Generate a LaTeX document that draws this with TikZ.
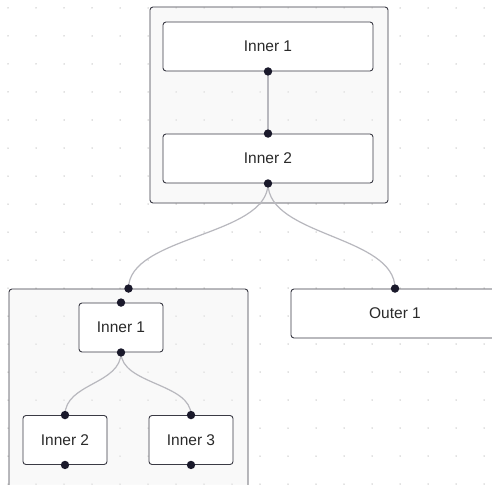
\documentclass[tikz,border=0pt]{standalone}
\usepackage{fontspec}
\setmainfont{Liberation Sans}
\definecolor{nodeborder}{HTML}{3A3A44}
\definecolor{edgecol}{HTML}{B8B8BE}
\definecolor{handlecol}{HTML}{1A192B}
\definecolor{dotcol}{HTML}{C4C4C4}
\definecolor{groupfill}{HTML}{F0F0F0}
\definecolor{labelcol}{HTML}{2A2A2A}
\tikzset{
  box/.style={draw=nodeborder, line width=0.9pt, fill=white, rounded corners=3pt,
    minimum height=49pt, inner sep=0pt, text=labelcol,
    font=\fontsize{15.5}{18}\selectfont},
  groupbox/.style={draw=nodeborder, line width=0.9pt, fill=groupfill, fill opacity=0.35,
    rounded corners=3pt, inner sep=0pt},
  link/.style={draw=edgecol, line width=1.2pt},
  handle/.style={fill=handlecol},
}
\begin{document}
\begin{tikzpicture}[x=1pt,y=-1pt]
  \clip (0,0) rectangle (492,484);
  \fill[white] (0,0) rectangle (492,484);
  % background dot grid
  \foreach \i in {0,...,17}{
    \foreach \j in {0,...,17}{
      \fill[dotcol] (8+28*\i,8+28*\j) circle (0.75);
    }
  }
  % groups
  \node[groupbox, minimum width=238pt, minimum height=196pt] (ga) at (269,105) {};
  \node[groupbox, minimum width=239pt, minimum height=215pt] (gb) at (128.5,396.5) {};
  % nodes of the upper group
  \node[box, minimum width=210pt] (a1) at (268,46.5) {Inner 1};
  \node[box, minimum width=210pt] (a2) at (268,158.5) {Inner 2};
  % nodes of the lower group
  \node[box, minimum width=84pt] (b1) at (121,327.5) {Inner 1};
  \node[box, minimum width=84pt] (b2) at (65,440) {Inner 2};
  \node[box, minimum width=84pt] (b3) at (191,440) {Inner 3};
  % free node
  \node[box, minimum width=208pt] (o1) at (395,313.5) {Outer 1};
  % connectors
  \draw[link] (a1.south) -- (a2.north);
  \draw[link] (a2.south) .. controls +(0,53) and +(0,-53) .. (gb.north);
  \draw[link] (a2.south) .. controls +(0,53) and +(0,-53) .. (o1.north);
  \draw[link] (b1.south) .. controls +(0,32) and +(0,-32) .. (b2.north);
  \draw[link] (b1.south) .. controls +(0,32) and +(0,-32) .. (b3.north);
  % handles
  \foreach \p in {a1.south,a2.north,a2.south,gb.north,b1.north,b1.south,
                  b2.north,b2.south,b3.north,b3.south,o1.north}{
    \fill[handle] (\p) circle (4.2);
  }
\end{tikzpicture}
\end{document}
